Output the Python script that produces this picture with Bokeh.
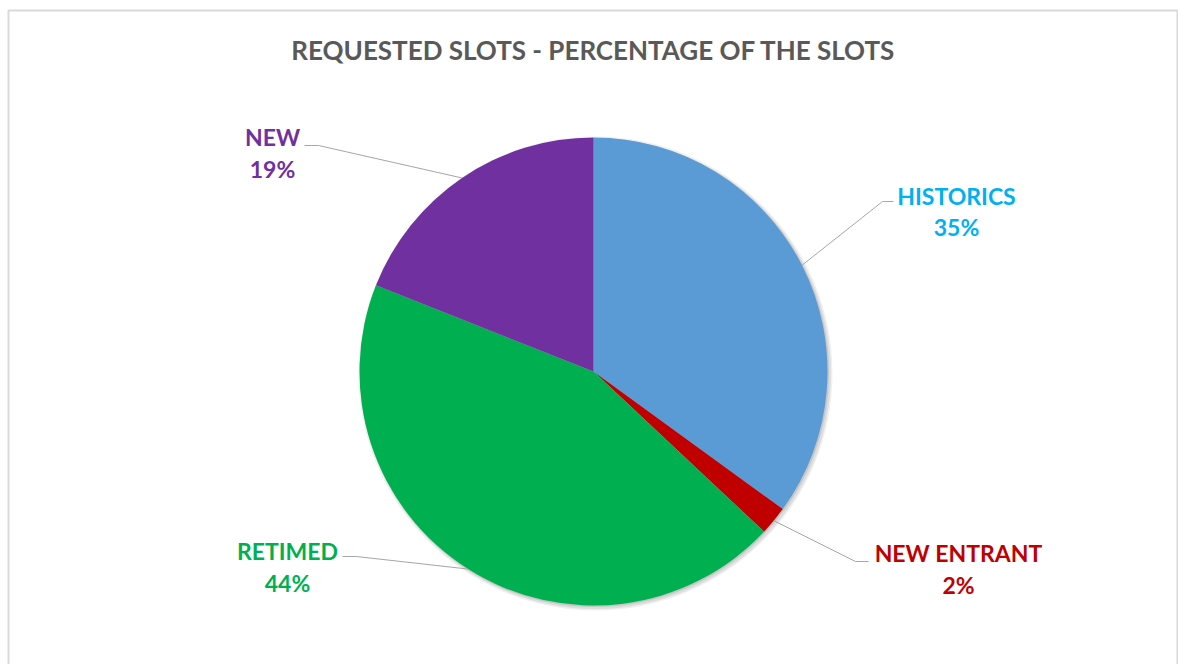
import math
from bokeh.plotting import figure
from bokeh.models import Range1d, ColumnDataSource
from bokeh.core.properties import value
from bokeh.embed import file_html
from bokeh.resources import INLINE

# ---- data ----
categories = ["HISTORICS", "NEW ENTRANT", "RETIMED", "NEW"]
percentages = [35, 2, 44, 19]
slice_colors = ["#5b9bd5", "#c00000", "#00b050", "#7030a0"]
label_colors = ["#00b0f0", "#c00000", "#00b050", "#7030a0"]
title_text = "REQUESTED SLOTS - PERCENTAGE OF THE SLOTS"

# ---- layout (page pixels) ----
W, H = 1178, 664
def X(px):
    return px
def Y(py):
    return H - py

cx, cy, R = X(593), Y(371), 234
# label anchor positions (page px): (x, y_name, y_pct), leader elbow x and end x
label_pos = [(956, 195, 226), (958, 552, 584), (287, 550, 582), (272, 136, 168)]
elbow = [(882, 201, 893), (855, 561, 868), (356, 556, 342), (318, 145, 304)]

p = figure(width=W, height=H, output_backend="svg", toolbar_location=None,
           x_range=Range1d(0, W), y_range=Range1d(0, H), min_border=0,
           background_fill_color="white", border_fill_color="white")
p.axis.visible = False
p.grid.visible = False
p.outline_line_color = None

# chart border (open at the bottom, as cropped in the reference)
p.line(x=[X(8), X(8), X(1177), X(1177)], y=[Y(700), Y(10), Y(10), Y(700)],
       line_color="#d9d9d9", line_width=2)

# angles: start at 12 o'clock, clockwise
total = sum(percentages)
starts, ends, mids = [], [], []
a = math.pi / 2
for v in percentages:
    s = a
    e = a - v / total * 2 * math.pi
    starts.append(s); ends.append(e); mids.append((s + e) / 2)
    a = e

# soft shadow
for off, rr, al in [(2, R + 3, 0.06), (2, R + 1.5, 0.08), (1, R + 0.5, 0.10)]:
    p.circle(x=[cx + off], y=[cy - off], radius=rr, fill_color="black",
             fill_alpha=al, line_color=None)

src = ColumnDataSource(dict(start=starts, end=ends, color=slice_colors))
p.wedge(x=cx, y=cy, radius=R, start_angle="end", end_angle="start",
        fill_color="color", line_color=None, source=src)

# leader lines
for i in range(len(categories)):
    ex = cx + R * math.cos(mids[i])
    ey = cy + R * math.sin(mids[i])
    bx, by, tx = elbow[i]
    p.line(x=[ex, X(bx), X(tx)], y=[ey, Y(by), Y(by)], line_color="#a6a6a6",
           line_width=1)

# labels
for i, cat in enumerate(categories):
    lx, ly1, ly2 = label_pos[i]
    p.text(x=[X(lx)], y=[Y(ly1)], text=[cat], text_color=label_colors[i],
           text_font=value("Lato"), text_font_style="bold", text_font_size="23px",
           text_align="center", text_baseline="middle")
    p.text(x=[X(lx)], y=[Y(ly2)], text=[f"{percentages[i]}%"], text_color=label_colors[i],
           text_font=value("Lato"), text_font_style="bold", text_font_size="23px",
           text_align="center", text_baseline="middle")

p.text(x=[X(593)], y=[Y(49)], text=[title_text], text_color="#595959",
       text_font=value("Lato"), text_font_style="bold", text_font_size="26px",
       text_align="center", text_baseline="middle")

open("out.html", "w").write(file_html(p, INLINE))
